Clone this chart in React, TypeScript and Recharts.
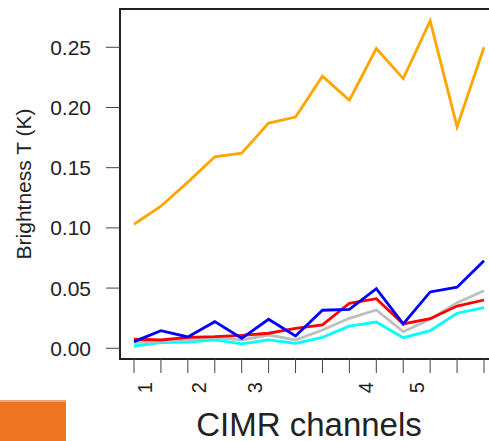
import { LineChart, Line, XAxis, YAxis, ReferenceArea, Label } from "recharts"

// 14 CIMR channels along x
const channels = [1, 2, 3, 4, 5, 6, 7, 8, 9, 10, 11, 12, 13, 14]

const orangeVals = [0.103, 0.118, 0.138, 0.159, 0.162, 0.187, 0.192, 0.226, 0.206, 0.249, 0.224, 0.272, 0.184, 0.25]
const blueVals = [0.0055, 0.0146, 0.0094, 0.0221, 0.0083, 0.0241, 0.0102, 0.0316, 0.0324, 0.0495, 0.0202, 0.0468, 0.0507, 0.0728]
const redVals = [0.0075, 0.0069, 0.0091, 0.0097, 0.0108, 0.0125, 0.0166, 0.0194, 0.0374, 0.0412, 0.0202, 0.0246, 0.0351, 0.0401]
const grayVals = [0.0047, 0.006, 0.0069, 0.0091, 0.0069, 0.011, 0.0069, 0.0152, 0.0249, 0.0318, 0.0138, 0.0241, 0.0379, 0.0478]
const cyanVals = [0.0019, 0.0047, 0.0052, 0.0069, 0.0036, 0.0069, 0.0041, 0.0091, 0.0185, 0.0218, 0.0088, 0.0146, 0.0291, 0.0337]

// band labels sit between the channel ticks
const bandLabels = ["1", "2", "3", "4", "5"]
const bandPositions = [1.4, 3.4, 5.5, 9.6, 11.5]

const yTicks = [0, 0.05, 0.1, 0.15, 0.2, 0.25]

const xDomain: [number, number] = [0.48, 14.52]
const yDomain: [number, number] = [-0.0089, 0.2818]

const data = channels.map((ch, i) => ({
  ch,
  orange: orangeVals[i],
  blue: blueVals[i],
  red: redVals[i],
  gray: grayVals[i],
  cyan: cyanVals[i],
}))

const font = "'Liberation Sans', Arial, Helvetica, sans-serif"

function BandTick(props: any) {
  const { x, y, payload } = props
  const idx = bandPositions.indexOf(payload.value)
  return (
    <text
      transform={`translate(${x},${y + 7}) rotate(-90)`}
      textAnchor="end"
      dominantBaseline="central"
      fontSize={20}
      fontFamily={font}
      fill="#222"
    >
      {bandLabels[idx]}
    </text>
  )
}

export default function App() {
  return (
    <div style={{ position: "absolute", left: 0, top: 0, width: 489, height: 441, overflow: "hidden", background: "#fff" }}>
      <LineChart width={510} height={441} data={data} margin={{ top: 9, right: 12, bottom: 0, left: 0 }}>
        <XAxis
          dataKey="ch"
          type="number"
          domain={xDomain}
          ticks={channels}
          interval={0}
          allowDataOverflow
          tickFormatter={() => ""}
          tickSize={14}
          axisLine={false}
          tickLine={{ stroke: "#444", strokeWidth: 1 }}
          height={16}
        />
        <XAxis
          xAxisId="lab"
          dataKey="ch"
          type="number"
          domain={xDomain}
          ticks={bandPositions}
          interval={0}
          allowDataOverflow
          tickSize={0}
          tickMargin={0}
          axisLine={false}
          tickLine={false}
          tick={<BandTick />}
          height={66}
        >
          <Label value="CIMR channels" position="insideBottom" offset={5} style={{ fontSize: 33, fontFamily: font, fill: "#222" }} />
        </XAxis>
        <YAxis
          type="number"
          domain={yDomain}
          ticks={yTicks}
          interval={0}
          allowDataOverflow
          width={120}
          tickSize={14}
          tickMargin={15}
          axisLine={false}
          tickLine={{ stroke: "#444", strokeWidth: 1 }}
          tickFormatter={(v: number) => v.toFixed(2)}
          tick={{ fontSize: 21, fontFamily: font, fill: "#222" }}
        >
          <Label
            value="Brightness T (K)"
            position="insideLeft"
            angle={-90}
            offset={24}
            style={{ fontSize: 21, fontFamily: font, fill: "#222", textAnchor: "middle" }}
          />
        </YAxis>
        <ReferenceArea x1={xDomain[0]} x2={xDomain[1]} y1={yDomain[0]} y2={yDomain[1]} fill="none" stroke="#222" strokeWidth={2} />
        <Line dataKey="cyan" stroke="#00FFFF" strokeWidth={2.8} dot={false} isAnimationActive={false} />
        <Line dataKey="gray" stroke="#BEBEBE" strokeWidth={2.8} dot={false} isAnimationActive={false} />
        <Line dataKey="red" stroke="#FF0000" strokeWidth={2.8} dot={false} isAnimationActive={false} />
        <Line dataKey="blue" stroke="#0000FF" strokeWidth={2.8} dot={false} isAnimationActive={false} />
        <Line dataKey="orange" stroke="#FFA500" strokeWidth={2.8} dot={false} isAnimationActive={false} />
      </LineChart>
      <div style={{ position: "absolute", left: 0, top: 400, width: 66, height: 41, background: "#EE7623", borderTop: "2px solid #F4A56E", boxSizing: "border-box" }} />
    </div>
  )
}
